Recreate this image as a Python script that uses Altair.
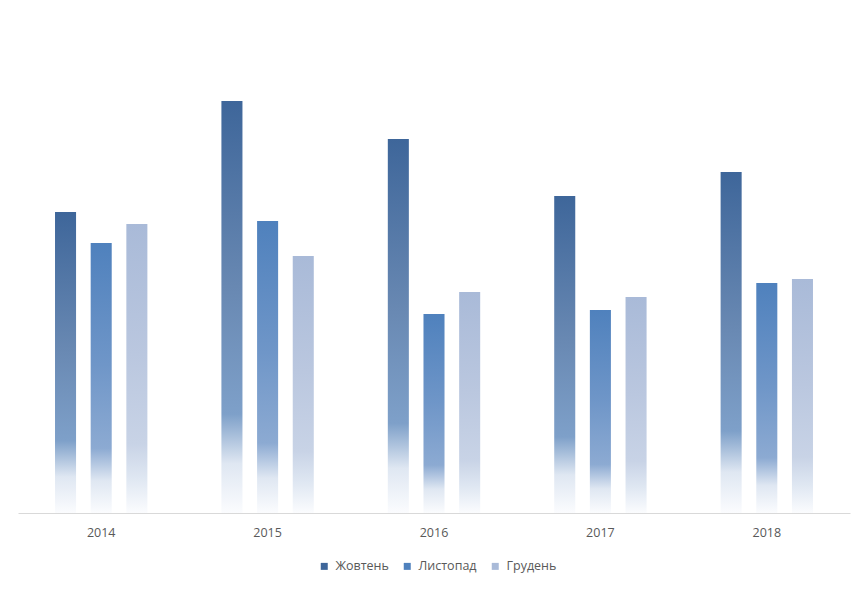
import altair as alt
import pandas as pd

years = ["2014", "2015", "2016", "2017", "2018"]
series = ["Жовтень", "Листопад", "Грудень"]
zhovten = [301, 412, 374, 317, 341]
lystopad = [270, 292, 199, 203, 230]
hruden = [289, 257, 221, 216, 234]

top_colors = ["#3e669a", "#4f81bd", "#a9bad8"]
mid_colors = ["#7ea0c9", "#8caad2", "#c8d3e6"]
mid2_colors = ["#6888b2", "#6f96c8", "#bac7df"]

rows = []
for s, vals in zip(series, [zhovten, lystopad, hruden]):
    for y, v in zip(years, vals):
        rows.append({"year": y, "series": s, "value": v})
df = pd.DataFrame(rows)


def grad(i):
    return alt.Gradient(
        gradient="linear",
        x1=0, x2=0, y1=0, y2=1,
        stops=[
            alt.GradientStop(color=top_colors[i], offset=0),
            alt.GradientStop(color=mid2_colors[i], offset=0.45),
            alt.GradientStop(color=mid_colors[i], offset=0.76),
            alt.GradientStop(color="#dfe7f2", offset=0.88),
            alt.GradientStop(color="#fbfcfe", offset=1),
        ],
    )


base = alt.Chart(df).encode(
    x=alt.X(
        "year:N",
        sort=years,
        scale=alt.Scale(paddingInner=0.357, paddingOuter=0.1785),
        axis=alt.Axis(
            title=None,
            labelAngle=0,
            ticks=False,
            domainColor="#d9d9d9",
            labelColor="#595959",
            labelFontSize=12.5,
            labelFont="Open Sans",
            labelPadding=13,
        ),
    ),
    xOffset=alt.XOffset(
        "series:N",
        sort=series,
        scale=alt.Scale(domain=series, paddingInner=0.41, paddingOuter=0.205),
    ),
    y=alt.Y("value:Q", scale=alt.Scale(domain=[0, 495]), axis=None),
)

layers = [
    base.transform_filter(alt.datum.series == s).mark_bar(color=grad(i))
    for i, s in enumerate(series)
]

legend_layer = base.mark_square(opacity=0).encode(
    color=alt.Color(
        "series:N",
        scale=alt.Scale(domain=series, range=top_colors),
        legend=alt.Legend(
            title=None,
            orient="none",
            legendX=300,
            legendY=542,
            direction="horizontal",
            symbolType="square",
            symbolSize=49,
            symbolOpacity=1,
            symbolStrokeWidth=0,
            labelFontSize=12.5,
            labelFont="Open Sans",
            labelColor="#595959",
            columnPadding=12,
            labelOffset=5,
        ),
    )
)

chart = (
    alt.layer(*layers, legend_layer)
    .properties(width=832, height=495, padding={"left": 10, "top": 10, "right": 7, "bottom": 5})
    .configure_view(stroke=None)
)

chart.save("out.html", embed_options={"renderer": "svg", "actions": False})
